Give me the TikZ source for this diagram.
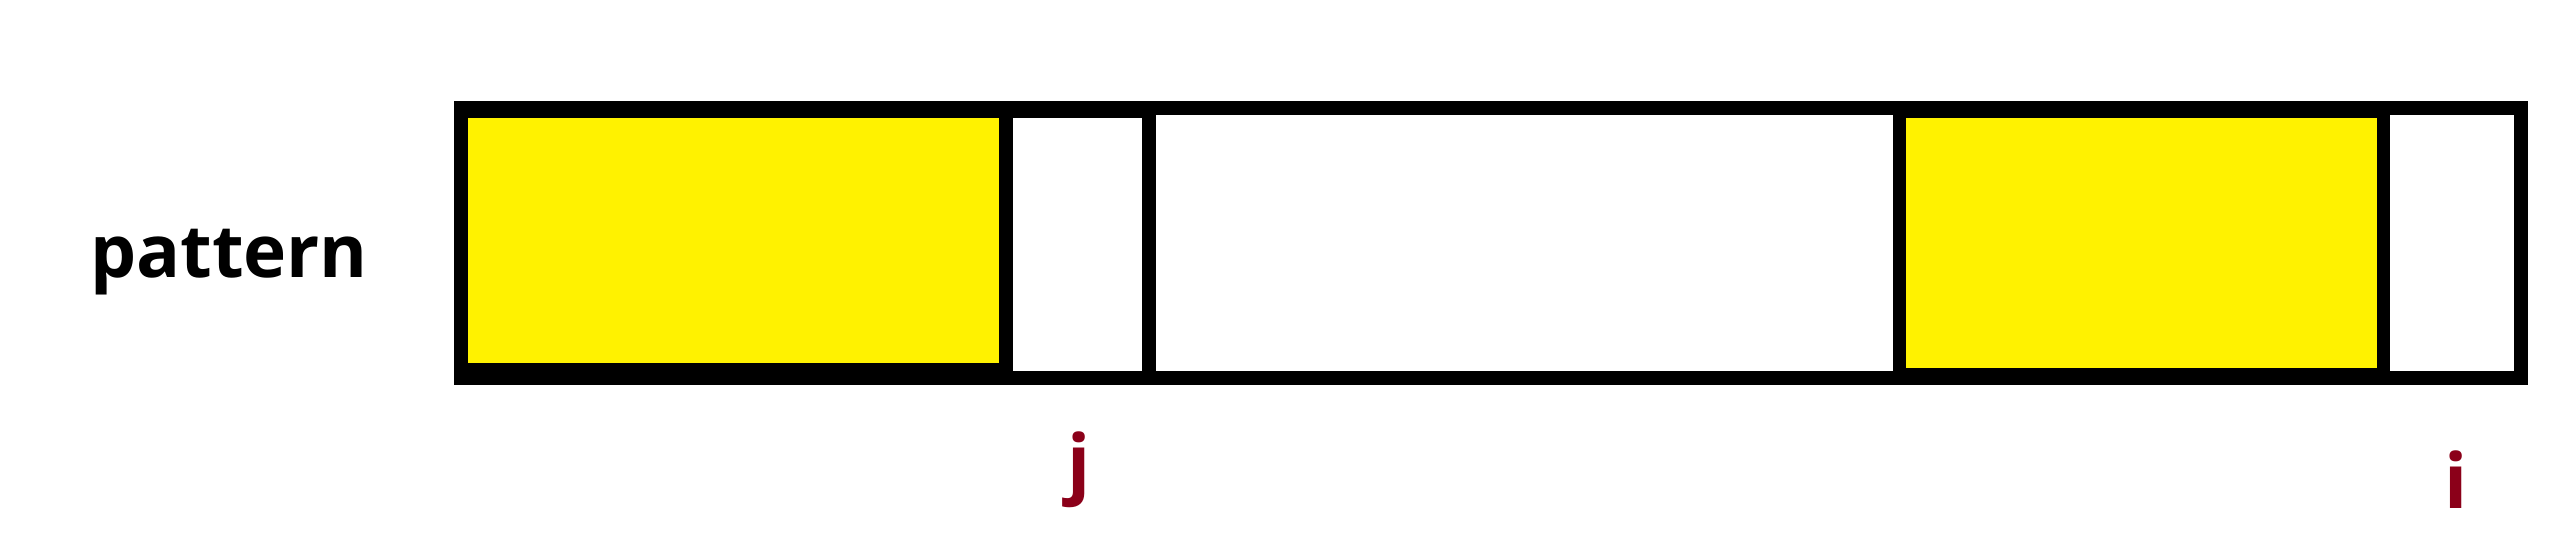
\documentclass[tikz,border=0pt]{standalone}
\usepackage{fontspec}
\setmainfont{Open Sans}
\definecolor{hlyellow}{RGB}{255,242,0}
\definecolor{idxred}{RGB}{139,0,25}
\tikzset{
  frame/.style={fill=black},
  ycell/.style={fill=hlyellow},
  wcell/.style={fill=white},
  lbl/.style={inner sep=0pt, outer sep=0pt, anchor=base, font=\bfseries\fontsize{73}{78}\selectfont},
  idx/.style={inner sep=0pt, outer sep=0pt, anchor=base, text=idxred, font=\bfseries\fontsize{76}{80}\selectfont}
}
\begin{document}
\begin{tikzpicture}[x=1pt,y=-1pt]
\useasboundingbox[fill=white] (0,0) rectangle (2571,549);
% outer frame
\path[frame] (454,101) rectangle (2528,385);
% cells
\path[ycell] (468,118) rectangle (999,363);
\path[wcell] (1013,118) rectangle (1142,371);
\path[wcell] (1156,115) rectangle (1893,371);
\path[ycell] (1906,118) rectangle (2377,368);
\path[wcell] (2390,115) rectangle (2514,371);
% labels
\node[lbl] (pat) at (229,277) {pattern};
\node[idx] (jj) at (1079,489) {j};
\node[idx] (ii) at (2456,508) {i};
\end{tikzpicture}
\end{document}
